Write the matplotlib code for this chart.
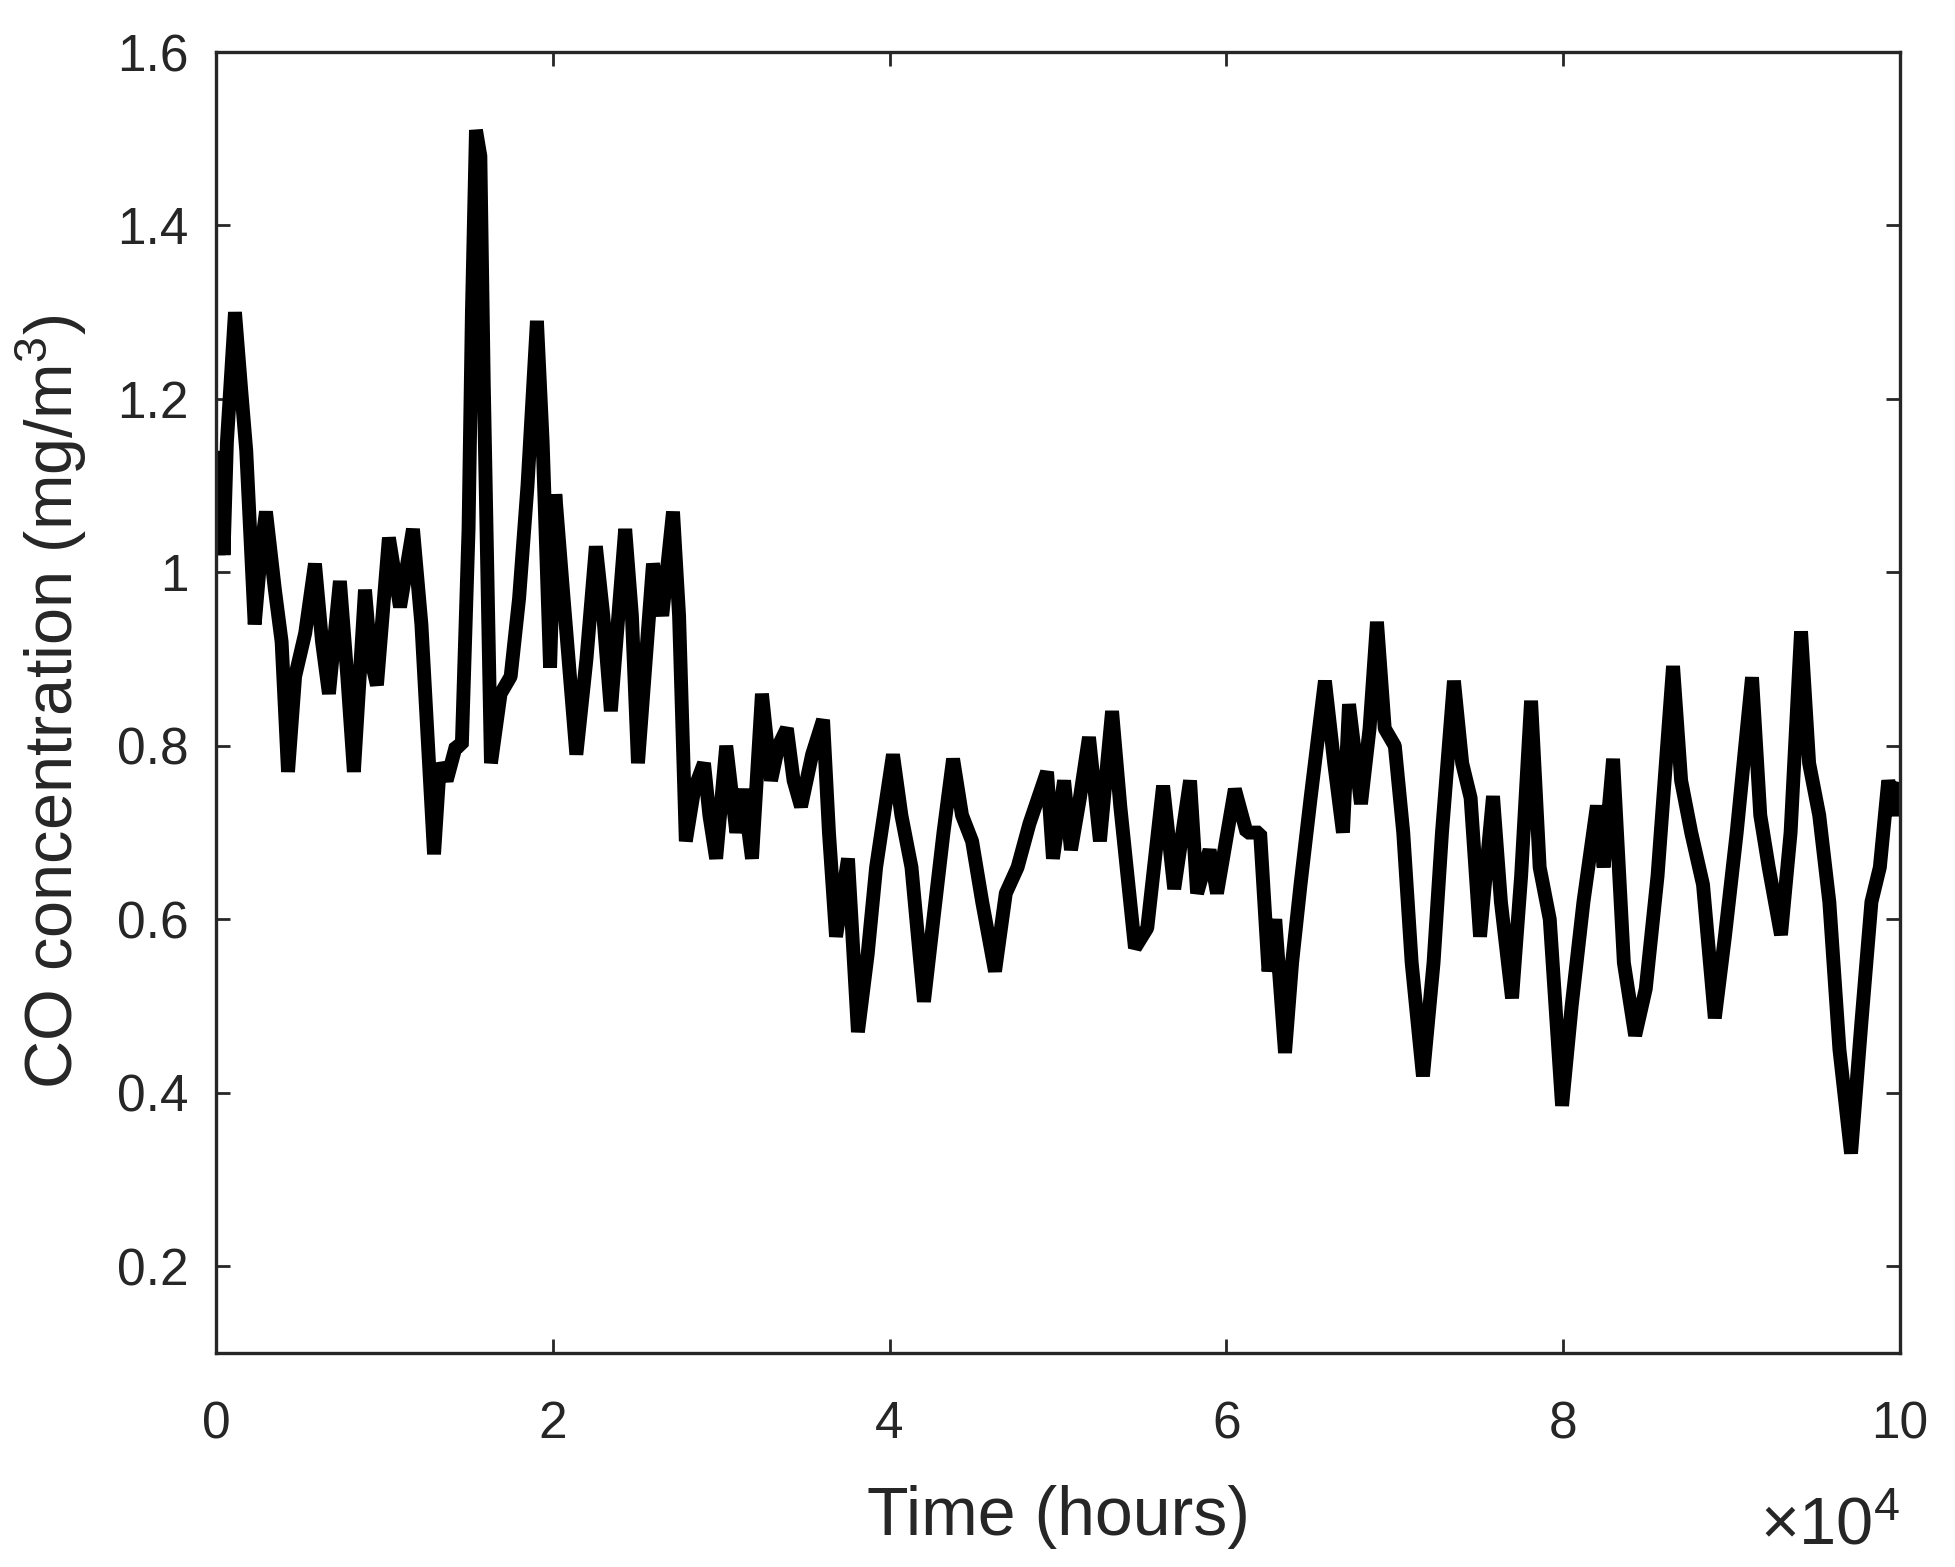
import matplotlib
matplotlib.use("Agg")
import matplotlib.pyplot as plt

plt.rcParams["font.family"] = ["Liberation Sans", "DejaVu Sans"]
plt.rcParams["mathtext.fontset"] = "custom"
plt.rcParams["mathtext.rm"] = "Liberation Sans"
plt.rcParams["mathtext.it"] = "Liberation Sans:italic"
plt.rcParams["mathtext.bf"] = "Liberation Sans:bold"

# hours since start
time_h = [0, 150, 300, 450, 650, 1130, 1500, 1800, 2300, 2700, 2970, 3500, 3900,
          4280, 4700, 5300, 5880, 6300, 6710, 7360, 7800, 8190, 8850, 9200, 9560,
          10270, 10930, 11700, 12200, 12950, 13300, 13700, 14250, 14600, 15000,
          15200, 15440, 15700, 15900, 16330, 16900, 17500, 18000, 18500, 19060,
          19400, 19840, 20150, 20600, 21400, 22000, 22560, 23000, 23450, 24300,
          24700, 25060, 25600, 25950, 26500, 27140, 27500, 27900, 28400, 28980,
          29300, 29700, 30300, 30900, 31300, 31830, 32420, 32960, 33400, 33900,
          34300, 34740, 35400, 36050, 36400, 36820, 37530, 38120, 38700, 39200,
          40200, 40700, 41300, 42040, 42600, 43200, 43770, 44300, 44900, 45500,
          46260, 46900, 47600, 48300, 49350, 49700, 50360, 50770, 51300, 51840,
          52490, 53210, 53700, 54570, 55300, 56240, 56900, 57840, 58260, 59000,
          59440, 60500, 61200, 61760, 62000, 62500, 62900, 63480, 63900, 64400,
          65000, 65850, 66400, 66920, 67280, 67990, 68500, 68940, 69400, 70000,
          70500, 71000, 71670, 72300, 72800, 73510, 74000, 74500, 75060, 75830,
          76300, 76960, 77500, 78090, 78600, 79200, 79930, 80500, 81200, 82000,
          82400, 82960, 83600, 84270, 84900, 85600, 86520, 87000, 87600, 88300,
          89000, 89600, 90300, 91210, 91700, 92200, 92930, 93500, 94120, 94600,
          95200, 95800, 96400, 97090, 97700, 98300, 98800, 99300, 99700, 100000]

# CO concentration (mg/m3)
co_conc = [1.10, 1.02, 1.14, 1.02, 1.15, 1.30, 1.21, 1.14, 0.94, 1.03, 1.07, 0.98, 0.92,
           0.77, 0.88, 0.93, 1.01, 0.92, 0.86, 0.99, 0.88, 0.77, 0.98, 0.90, 0.87,
           1.04, 0.96, 1.05, 0.94, 0.675, 0.78, 0.76, 0.80, 0.80, 1.05,
           1.30, 1.51, 1.48, 1.22, 0.78, 0.86, 0.88, 0.97, 1.10, 1.29,
           1.15, 0.89, 1.09, 0.98, 0.79, 0.90, 1.03, 0.95, 0.84, 1.05,
           0.95, 0.78, 0.92, 1.01, 0.95, 1.07, 0.95, 0.69, 0.75, 0.78,
           0.72, 0.67, 0.80, 0.70, 0.75, 0.67, 0.86, 0.76, 0.80, 0.82,
           0.76, 0.73, 0.79, 0.83, 0.70, 0.58, 0.67, 0.47, 0.56, 0.66,
           0.79, 0.72, 0.66, 0.505, 0.60, 0.70, 0.785, 0.72, 0.69, 0.62,
           0.54, 0.63, 0.66, 0.71, 0.77, 0.67, 0.76, 0.68, 0.74, 0.81,
           0.69, 0.84, 0.73, 0.567, 0.59, 0.754, 0.635, 0.76, 0.63, 0.68,
           0.63, 0.75, 0.70, 0.70, 0.70, 0.54, 0.60, 0.446, 0.55, 0.64,
           0.74, 0.875, 0.78, 0.70, 0.848, 0.733, 0.82, 0.943, 0.82, 0.80,
           0.70, 0.55, 0.419, 0.55, 0.70, 0.875, 0.78, 0.74, 0.58, 0.742,
           0.62, 0.509, 0.65, 0.852, 0.66, 0.60, 0.385, 0.50, 0.62, 0.731,
           0.66, 0.785, 0.55, 0.466, 0.52, 0.65, 0.892, 0.76, 0.70, 0.64,
           0.486, 0.58, 0.70, 0.879, 0.72, 0.66, 0.582, 0.70, 0.932, 0.78,
           0.72, 0.62, 0.45, 0.33, 0.48, 0.62, 0.66, 0.76, 0.72, 0.75]

x_ticks = [0, 20000, 40000, 60000, 80000, 100000]
x_tick_labels = ["0", "2", "4", "6", "8", "10"]
y_ticks = [0.2, 0.4, 0.6, 0.8, 1.0, 1.2, 1.4, 1.6]
y_tick_labels = ["0.2", "0.4", "0.6", "0.8", "1", "1.2", "1.4", "1.6"]

fig = plt.figure(figsize=(9.78, 7.835), dpi=200)
ax = fig.add_axes([0.1104, 0.1366, 0.861, 0.8302])
ax.plot(time_h, co_conc, color="black", linewidth=5.0, solid_joinstyle="bevel")

ax.set_xlim(0, 100000)
ax.set_ylim(0.1, 1.6)
ax.set_xticks(x_ticks)
ax.set_xticklabels(x_tick_labels)
ax.set_yticks(y_ticks)
ax.set_yticklabels(y_tick_labels)

txt = "#262626"
ax.tick_params(direction="in", length=5, width=1.0, colors=txt, labelsize=18.5,
               top=True, right=True)
ax.tick_params(axis="x", pad=17)
ax.tick_params(axis="y", pad=10)
for s in ax.spines.values():
    s.set_linewidth(1.2)
    s.set_color(txt)

ax.set_xlabel("Time (hours)", fontsize=24.5, color=txt, labelpad=13)
ax.set_ylabel("CO concentration (mg/m$^3$)", fontsize=24, color=txt, labelpad=10)
ax.text(1.0, -0.147, "\u00d710$^4$", transform=ax.transAxes, ha="right",
        va="baseline", fontsize=24, color=txt)

fig.savefig("out.png", dpi=200)
